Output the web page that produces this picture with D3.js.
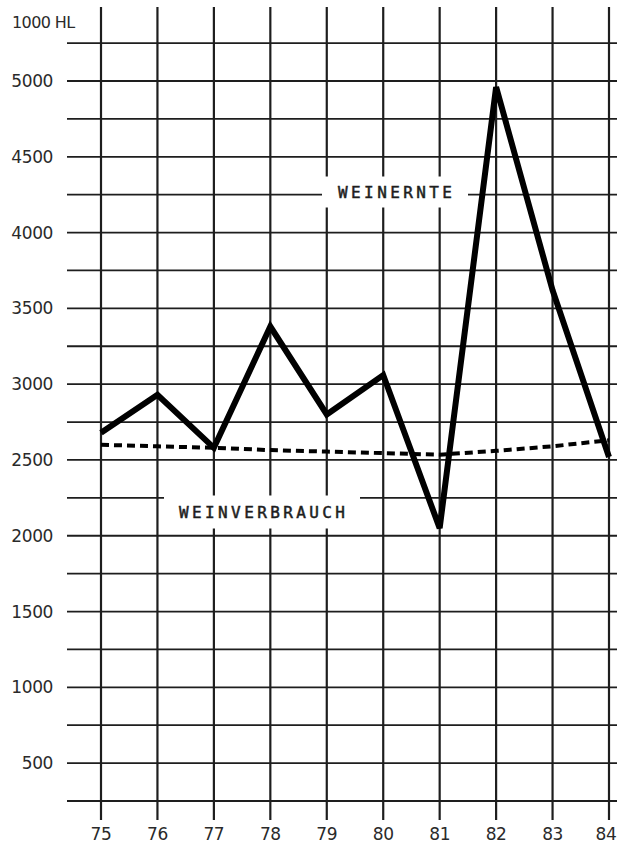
<!DOCTYPE html>
<html>
<head>
<meta charset="utf-8">
<script src="https://cdn.jsdelivr.net/npm/d3@7"></script>
<style>
  html, body { margin: 0; padding: 0; background: #fff; }
  svg { display: block; }
</style>
</head>
<body>
<svg id="chart"></svg>
<script>
// years on the x axis
const years = ['75', '76', '77', '78', '79', '80', '81', '82', '83', '84'];
// wine harvest (1000 hl)
const weinernte = [2680, 2930, 2580, 3380, 2800, 3060, 2050, 4960, 3620, 2520];
// wine consumption (1000 hl)
const weinverbrauch = [2600, 2590, 2580, 2565, 2555, 2545, 2535, 2560, 2590, 2630];
// labelled ticks and grid lines
const yTicks = [500, 1000, 1500, 2000, 2500, 3000, 3500, 4000, 4500, 5000];
const gridLines = [250, 500, 750, 1000, 1250, 1500, 1750, 2000, 2250, 2500, 2750,
  3000, 3250, 3500, 3750, 4000, 4250, 4500, 4750, 5000, 5250];

const width = 617, height = 843;
const ink = '#1e1e1e';

const svg = d3.select('#chart')
  .attr('width', width)
  .attr('height', height);

const x = d3.scalePoint().domain(years).range([101, 609]);
const y = d3.scaleLinear().domain([250, 5000]).range([801, 81]);

// horizontal grid
svg.append('g')
  .selectAll('line')
  .data(gridLines)
  .enter()
  .append('line')
  .attr('x1', 67)
  .attr('x2', width)
  .attr('y1', d => y(d))
  .attr('y2', d => y(d))
  .attr('stroke', ink)
  .attr('stroke-width', 1.8);

// vertical grid
svg.append('g')
  .selectAll('line')
  .data(years)
  .enter()
  .append('line')
  .attr('x1', d => x(d))
  .attr('x2', d => x(d))
  .attr('y1', 7)
  .attr('y2', 820)
  .attr('stroke', ink)
  .attr('stroke-width', 2.2);

// y labels
svg.append('g')
  .selectAll('text')
  .data(yTicks)
  .enter()
  .append('text')
  .attr('x', 53)
  .attr('y', d => y(d))
  .attr('dy', '0.36em')
  .attr('text-anchor', 'end')
  .attr('font-family', 'DejaVu Sans')
  .attr('font-size', 17)
  .attr('letter-spacing', -0.4)
  .attr('fill', '#2a2a2a')
  .text(d => d);

svg.append('text')
  .attr('x', 12)
  .attr('y', 22)
  .attr('dy', '0.36em')
  .attr('font-family', 'DejaVu Sans')
  .attr('font-size', 16)
  .attr('letter-spacing', -0.6)
  .attr('fill', '#2a2a2a')
  .text('1000 HL');

// x labels (last one kept inside the page)
svg.append('g')
  .selectAll('text')
  .data(years)
  .enter()
  .append('text')
  .attr('x', d => Math.min(x(d), width - 11))
  .attr('y', 834)
  .attr('dy', '0.36em')
  .attr('text-anchor', 'middle')
  .attr('font-family', 'DejaVu Sans')
  .attr('font-size', 17)
  .attr('letter-spacing', -0.4)
  .attr('fill', '#2a2a2a')
  .text(d => d);

// series labels on white patches
function seriesLabel(txt, cx, cy, w, h) {
  svg.append('rect')
    .attr('x', cx - w / 2)
    .attr('y', cy - h / 2)
    .attr('width', w)
    .attr('height', h)
    .attr('fill', '#fff');
  svg.append('text')
    .attr('x', cx + 1.7)
    .attr('y', cy)
    .attr('dy', '0.36em')
    .attr('text-anchor', 'middle')
    .attr('font-family', 'DejaVu Sans Mono')
    .attr('font-size', 16)
    .attr('letter-spacing', 3.4)
    .attr('fill', ink)
    .attr('stroke', ink)
    .attr('stroke-width', 0.5)
    .text(txt);
}

// lines
const line = d3.line()
  .x((d, i) => x(years[i]))
  .y(d => y(d));

svg.append('path')
  .datum(weinverbrauch)
  .attr('d', line)
  .attr('fill', 'none')
  .attr('stroke', '#000')
  .attr('stroke-width', 4)
  .attr('stroke-dasharray', '8,5');

svg.append('path')
  .datum(weinernte)
  .attr('d', line)
  .attr('fill', 'none')
  .attr('stroke', '#000')
  .attr('stroke-width', 6)
  .attr('stroke-linejoin', 'miter');

seriesLabel('WEINERNTE', 395, 192, 146, 31);
seriesLabel('WEINVERBRAUCH', 262, 512, 196, 33);
</script>
</body>
</html>
